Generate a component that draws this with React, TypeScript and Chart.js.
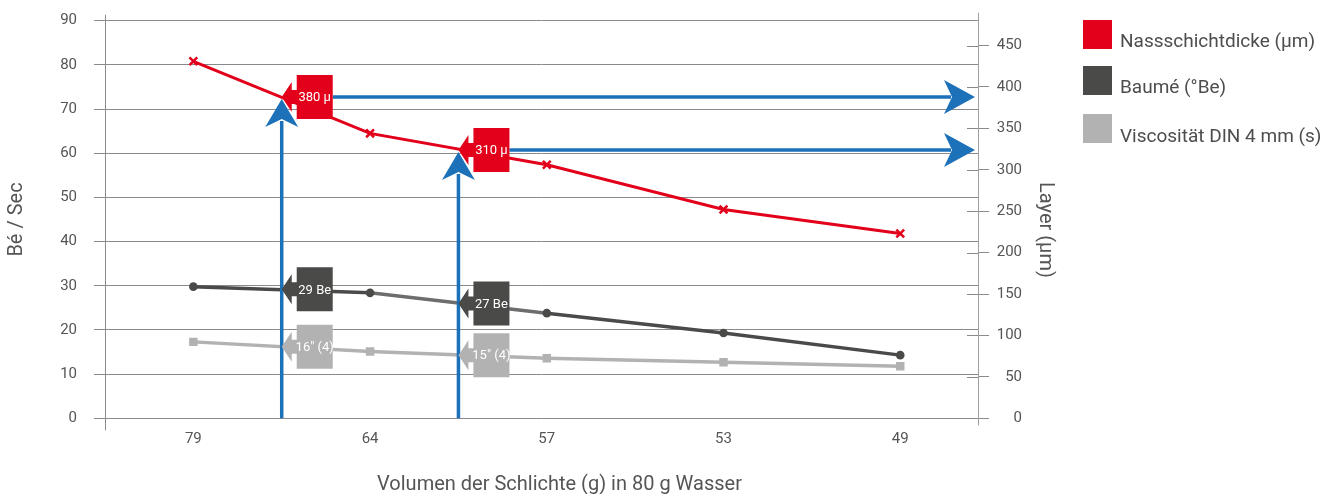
import { useEffect, useRef } from "react";
import { Chart, registerables } from "chart.js";

Chart.register(...registerables);

// ---------- data ----------
const xLabels = ["79", "64", "57", "53", "49"];
const nassValues = [431, 344, 306, 252, 223]; // right axis (µm)
const baumeValues = [29.8, 28.4, 23.8, 19.3, 14.3]; // left axis
const viscValues = [17.3, 15.1, 13.6, 12.7, 11.8]; // left axis

const leftTicks = [0, 10, 20, 30, 40, 50, 60, 70, 80, 90];
const rightTicks = [0, 50, 100, 150, 200, 250, 300, 350, 400, 450];

const seriesNames = ["Nassschichtdicke (µm)", "Baumé (°Be)", "Viscosität DIN 4 mm (s)"];
const leftTitle = "Bé / Sec";
const rightTitle = "Layer (µm)";
const xTitle = "Volumen der Schlichte (g) in 80 g Wasser";

// annotation markers (x in category index units)
const markX = [0.5, 1.5];
const nassMarks = [388, 324];
const nassMarkLabels = ["380 µ", "310 µ"];
const baumeMarks = [29.2, 26.0];
const baumeMarkLabels = ["29 Be", "27 Be"];
const viscMarks = [16.2, 14.3];
const viscMarkLabels = ['16" (4)', '15" (4)'];

// ---------- styles ----------
const RED = "#e2001a";
const DARK = "#4a4a49";
const DARK_MID = "#6d6d6d";
const LIGHT = "#b2b2b2";
const BLUE = "#1d71b8";
const GRID = "#8a8a8a";
const TEXT = "#555555";
const FONT = 'Roboto, "Liberation Sans", sans-serif';

function callout(ctx: CanvasRenderingContext2D, tx: number, ty: number, color: string, text: string) {
  ctx.save();
  ctx.fillStyle = color;
  ctx.beginPath();
  ctx.moveTo(tx, ty);
  ctx.lineTo(tx + 10, ty - 15);
  ctx.lineTo(tx + 10, ty - 7);
  ctx.lineTo(tx + 15, ty - 7);
  ctx.lineTo(tx + 15, ty - 22);
  ctx.lineTo(tx + 51, ty - 22);
  ctx.lineTo(tx + 51, ty + 22);
  ctx.lineTo(tx + 15, ty + 22);
  ctx.lineTo(tx + 15, ty + 7);
  ctx.lineTo(tx + 10, ty + 7);
  ctx.lineTo(tx + 10, ty + 15);
  ctx.closePath();
  ctx.fill();
  ctx.fillStyle = "#ffffff";
  ctx.font = `13px ${FONT}`;
  ctx.textAlign = "center";
  ctx.textBaseline = "middle";
  ctx.fillText(text, tx + 33, ty + 1);
  ctx.restore();
}

function blueUp(ctx: CanvasRenderingContext2D, x: number, yBottom: number, yTip: number) {
  ctx.save();
  ctx.strokeStyle = BLUE;
  ctx.fillStyle = BLUE;
  ctx.lineWidth = 3.5;
  ctx.beginPath();
  ctx.moveTo(x, yBottom);
  ctx.lineTo(x, yTip + 22);
  ctx.stroke();
  ctx.beginPath();
  ctx.moveTo(x, yTip);
  ctx.lineTo(x + 16.5, yTip + 28);
  ctx.lineTo(x, yTip + 20);
  ctx.lineTo(x - 16.5, yTip + 28);
  ctx.closePath();
  ctx.fill();
  ctx.restore();
}

function blueRight(ctx: CanvasRenderingContext2D, xStart: number, xTip: number, y: number) {
  ctx.save();
  ctx.strokeStyle = BLUE;
  ctx.fillStyle = BLUE;
  ctx.lineWidth = 3.5;
  ctx.beginPath();
  ctx.moveTo(xStart, y);
  ctx.lineTo(xTip - 24, y);
  ctx.stroke();
  ctx.beginPath();
  ctx.moveTo(xTip, y);
  ctx.lineTo(xTip - 31, y - 17);
  ctx.lineTo(xTip - 23, y);
  ctx.lineTo(xTip - 31, y + 17);
  ctx.closePath();
  ctx.fill();
  ctx.restore();
}

const decorPlugin = {
  id: "decor",
  beforeDatasetsDraw(chart: any) {
    const { ctx, chartArea } = chart;
    ctx.save();
    ctx.lineWidth = 1;
    // left axis line
    ctx.strokeStyle = "#8c8c8c";
    ctx.beginPath();
    ctx.moveTo(chartArea.left + 0.5, chartArea.top - 6);
    ctx.lineTo(chartArea.left + 0.5, chartArea.bottom + 12);
    ctx.stroke();
    // right axis line
    ctx.strokeStyle = "#a0a0a0";
    ctx.beginPath();
    ctx.moveTo(chartArea.right + 0.5, chartArea.top - 8);
    ctx.lineTo(chartArea.right + 0.5, chartArea.bottom + 7);
    ctx.stroke();
    // right axis inner tick marks
    const y2 = chart.scales.y2;
    ctx.strokeStyle = GRID;
    rightTicks.forEach((v) => {
      const py = Math.round(y2.getPixelForValue(v)) + 0.5;
      ctx.beginPath();
      ctx.moveTo(chartArea.right - 11, py);
      ctx.lineTo(chartArea.right, py);
      ctx.stroke();
    });
    ctx.restore();
  },
  afterDatasetsDraw(chart: any) {
    const { ctx, chartArea } = chart;
    const xs = chart.scales.x;
    const yl = chart.scales.y;
    const yr = chart.scales.y2;
    markX.forEach((mx, i) => {
      const px = xs.getPixelForValue(mx);
      const py = yr.getPixelForValue(nassMarks[i]);
      blueUp(ctx, px, chartArea.bottom, py + 2);
      blueRight(ctx, px + 51, chartArea.right - 3, py);
    });
    markX.forEach((mx, i) => {
      const px = xs.getPixelForValue(mx);
      callout(ctx, px, yr.getPixelForValue(nassMarks[i]), RED, nassMarkLabels[i]);
      callout(ctx, px, yl.getPixelForValue(baumeMarks[i]), DARK, baumeMarkLabels[i]);
      callout(ctx, px, yl.getPixelForValue(viscMarks[i]), LIGHT, viscMarkLabels[i]);
    });
  },
  afterDraw(chart: any) {
    const { ctx, chartArea } = chart;
    ctx.save();
    // x axis title
    ctx.fillStyle = TEXT;
    ctx.font = `20px ${FONT}`;
    ctx.textAlign = "center";
    ctx.textBaseline = "alphabetic";
    ctx.fillText(xTitle, (chartArea.left + chartArea.right) / 2 + 18, 490);
    // right axis title (rotated clockwise)
    ctx.save();
    ctx.translate(1045, (chartArea.top + chartArea.bottom) / 2 + 10.5);
    ctx.rotate(Math.PI / 2);
    ctx.textBaseline = "middle";
    ctx.fillText(rightTitle, 0, 0);
    ctx.restore();
    // legend
    const colors = [RED, DARK, LIGHT];
    const boxTops = [20, 66, 114];
    const baselines = [47, 93, 142];
    ctx.font = `19px ${FONT}`;
    ctx.textAlign = "left";
    seriesNames.forEach((name, i) => {
      ctx.fillStyle = colors[i];
      ctx.fillRect(1083, boxTops[i], 29, 29);
      ctx.fillStyle = "#4d4d4d";
      ctx.fillText(name, 1120, baselines[i]);
    });
    ctx.restore();
  },
};

export default function App() {
  const ref = useRef<HTMLCanvasElement>(null);

  useEffect(() => {
    const canvas = ref.current;
    if (!canvas) return;
    const pts = (vals: number[]) => vals.map((v, i) => ({ x: i, y: v }));
    const tickFont = { family: FONT, size: 15 };
    const titleFont = { family: FONT, size: 20 };

    const chart = new Chart(canvas, {
      type: "line",
      data: {
        datasets: [
          {
            label: seriesNames[0],
            data: pts(nassValues),
            yAxisID: "y2",
            borderColor: RED,
            backgroundColor: RED,
            borderWidth: 3,
            pointStyle: "crossRot",
            pointRadius: 5.5,
            pointBorderWidth: 2.5,
            pointBorderColor: RED,
          },
          {
            label: seriesNames[1],
            data: pts(baumeValues),
            yAxisID: "y",
            borderColor: DARK,
            backgroundColor: DARK,
            borderWidth: 3.5,
            pointStyle: "circle",
            pointRadius: 4.3,
            pointBorderWidth: 0,
            segment: {
              borderColor: (c: any) => (c.p0DataIndex === 1 ? DARK_MID : undefined),
            },
          },
          {
            label: seriesNames[2],
            data: pts(viscValues),
            yAxisID: "y",
            borderColor: LIGHT,
            backgroundColor: LIGHT,
            borderWidth: 3.5,
            pointStyle: "rect",
            pointRadius: 6,
            pointBorderWidth: 0,
          },
        ],
      } as any,
      options: {
        animation: false,
        responsive: false,
        devicePixelRatio: 1,
        layout: { padding: { top: 20.7, left: 0, right: 316, bottom: 0 } },
        plugins: { legend: { display: false }, tooltip: { enabled: false } },
        scales: {
          x: {
            type: "linear",
            min: -0.5,
            max: 4.44,
            afterBuildTicks: (s: any) => {
              s.ticks = xLabels.map((_, i) => ({ value: i }));
            },
            ticks: {
              callback: (v: any) => xLabels[v] ?? "",
              font: tickFont,
              color: TEXT,
              padding: 12,
              maxRotation: 0,
              autoSkip: false,
            },
            grid: { display: false, drawTicks: false },
            border: { display: false },
            afterFit: (s: any) => {
              s.height = 75.7;
              s.paddingLeft = 0;
              s.paddingRight = 0;
            },
          },
          y: {
            position: "left",
            min: 0,
            max: 90,
            afterBuildTicks: (s: any) => {
              s.ticks = leftTicks.map((v) => ({ value: v }));
            },
            ticks: { font: tickFont, color: TEXT, padding: 17 },
            grid: { color: GRID, tickLength: 11, lineWidth: 1 },
            border: { display: false },
            title: {
              display: true,
              text: leftTitle,
              font: titleFont,
              color: TEXT,
              padding: { top: 5, bottom: 0 },
            },
            afterFit: (s: any) => {
              s.width = 105;
              s.paddingTop = 0;
              s.paddingBottom = 0;
            },
          },
          y2: {
            position: "right",
            min: 0,
            max: 480,
            afterBuildTicks: (s: any) => {
              s.ticks = rightTicks.map((v) => ({ value: v }));
            },
            ticks: { font: tickFont, color: TEXT, padding: 11, crossAlign: "far" },
            grid: { drawOnChartArea: false, color: GRID, tickLength: 11 },
            border: { display: false },
            afterFit: (s: any) => {
              s.width = 44;
              s.paddingTop = 0;
              s.paddingBottom = 0;
            },
          },
        },
      } as any,
      plugins: [decorPlugin],
    });
    return () => chart.destroy();
  }, []);

  return (
    <div style={{ position: "fixed", left: 0, top: 0, width: 1338, height: 494, background: "#ffffff" }}>
      <canvas ref={ref} width={1338} height={494} style={{ display: "block", width: 1338, height: 494 }} />
    </div>
  );
}
